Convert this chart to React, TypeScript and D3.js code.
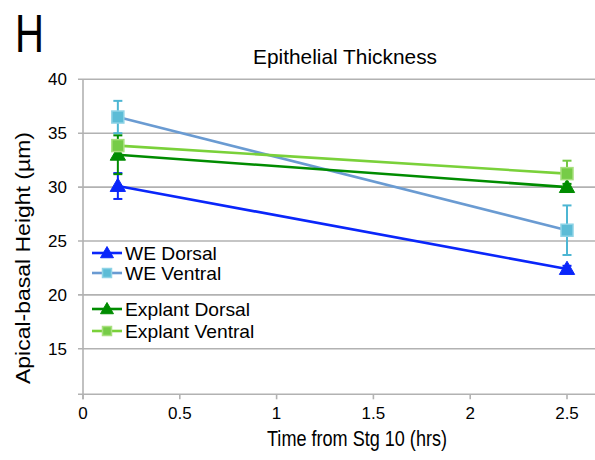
import React from "react";
import * as d3 from "d3";

const times = [0.18, 2.5];
const weDorsal = [30.1, 22.4];
const weDorsalErr = [1.2, 0.3];
const weVentral = [36.5, 26.0];
const weVentralErr = [1.5, 2.3];
const explantDorsal = [33.0, 30.0];
const explantDorsalErr = [1.8, 0.3];
const explantVentral = [33.85, 31.25];
const explantVentralErr = [0.4, 1.2];
const yTicks = [15, 20, 25, 30, 35, 40];
const xTicks = [0, 0.5, 1, 1.5, 2, 2.5];

const series = [
  { name: "WE Dorsal", values: weDorsal, errs: weDorsalErr, line: "#0a26fa", fill: "#0a26fa", stroke: "#0a26fa", err: "#0a26fa", marker: "tri", legendY: 253 },
  { name: "WE Ventral", values: weVentral, errs: weVentralErr, line: "#6a9bd2", fill: "#5cbcd6", stroke: "#8ed3e6", err: "#4db6d3", marker: "sq", legendY: 273 },
  { name: "Explant Dorsal", values: explantDorsal, errs: explantDorsalErr, line: "#008c00", fill: "#008c00", stroke: "#008c00", err: "#008c00", marker: "tri", legendY: 309 },
  { name: "Explant Ventral", values: explantVentral, errs: explantVentralErr, line: "#7ad13a", fill: "#76cc47", stroke: "#a8e07e", err: "#74c843", marker: "sq", legendY: 331 },
];

const W = 595;
const H = 460;
const grid = "#b2b2b2";
const font = "'Liberation Sans', Arial, sans-serif";

function Marker({ kind, x, y, fill, stroke, size }: any) {
  if (kind === "sq") {
    return <rect x={x - size / 2} y={y - size / 2} width={size} height={size} fill={fill} stroke={stroke} strokeWidth={1.5} />;
  }
  const tri = d3.symbol().type(d3.symbolTriangle).size(size * size * 0.6)();
  return <path d={tri || ""} transform={`translate(${x},${y + 1})`} fill={fill} stroke={stroke} strokeWidth={1} />;
}

export default function App() {
  const x = d3.scaleLinear().domain([0, 3]).range([83, 663.8]);
  const y = d3.scaleLinear().domain([10.78, 40]).range([394.3, 79.3]);
  const line = d3.line<number>().x((_, i) => x(times[i])).y((d) => y(d));

  return (
    <svg width={W} height={H} style={{ position: "absolute", left: 0, top: 0, background: "#fff" }} fontFamily={font}>
      {/* panel letter */}
      <text x={15} y={52} fontSize={54} textLength={29} lengthAdjust="spacingAndGlyphs" fill="#000">H</text>
      {/* title */}
      <text x={253} y={64} fontSize={21} textLength={184} lengthAdjust="spacingAndGlyphs" fill="#000">Epithelial Thickness</text>

      {/* grid */}
      {yTicks.map((t) => (
        <g key={t}>
          <line x1={78} x2={W} y1={y(t)} y2={y(t)} stroke={grid} strokeWidth={1.6} />
          <text x={67} y={y(t) + 6} fontSize={17} textAnchor="end" fill="#000">{t}</text>
        </g>
      ))}
      {/* axes */}
      <line x1={x(0)} x2={x(0)} y1={y(40)} y2={y(10.78) + 5} stroke={grid} strokeWidth={1.6} />
      <line x1={78} x2={W} y1={y(10.78)} y2={y(10.78)} stroke={grid} strokeWidth={1.6} />
      {xTicks.map((t) => (
        <g key={t}>
          <line x1={x(t)} x2={x(t)} y1={y(10.78)} y2={y(10.78) + 5} stroke={grid} strokeWidth={1.6} />
          <text x={x(t)} y={419} fontSize={17} textAnchor="middle" fill="#000">{t}</text>
        </g>
      ))}

      {/* axis titles */}
      <text x={357} y={446} fontSize={22} textAnchor="middle" textLength={180} lengthAdjust="spacingAndGlyphs" fill="#000">Time from Stg 10 (hrs)</text>
      <text transform="translate(30,258) rotate(-90)" fontSize={21} textAnchor="middle" textLength={252} lengthAdjust="spacingAndGlyphs" fill="#000">Apical-basal Height (µm)</text>

      {/* series lines */}
      {series.map((s) => (
        <path key={s.name} d={line(s.values) || ""} fill="none" stroke={s.line} strokeWidth={2.6} />
      ))}
      {/* error bars */}
      {series.map((s) =>
        s.values.map((v, i) => (
          <g key={s.name + i} stroke={s.err} strokeWidth={2}>
            <line x1={x(times[i])} x2={x(times[i])} y1={y(v + s.errs[i])} y2={y(v - s.errs[i])} />
            <line x1={x(times[i]) - 4.5} x2={x(times[i]) + 4.5} y1={y(v + s.errs[i])} y2={y(v + s.errs[i])} />
            <line x1={x(times[i]) - 4.5} x2={x(times[i]) + 4.5} y1={y(v - s.errs[i])} y2={y(v - s.errs[i])} />
          </g>
        ))
      )}
      {/* markers */}
      {series.map((s) =>
        s.values.map((v, i) => (
          <Marker key={s.name + "m" + i} kind={s.marker} x={x(times[i])} y={y(v)} fill={s.fill} stroke={s.stroke} size={s.marker === "sq" ? 12 : 13} />
        ))
      )}

      {/* legend */}
      {series.map((s) => (
        <g key={s.name + "leg"}>
          <line x1={92} x2={122} y1={s.legendY} y2={s.legendY} stroke={s.line} strokeWidth={2.6} />
          <Marker kind={s.marker} x={107} y={s.legendY} fill={s.fill} stroke={s.stroke} size={s.marker === "sq" ? 9 : 11} />
          <text transform={`translate(125,${s.legendY + 6.5}) scale(1.1,1)`} fontSize={17.5} fill="#000">{s.name}</text>
        </g>
      ))}
    </svg>
  );
}
